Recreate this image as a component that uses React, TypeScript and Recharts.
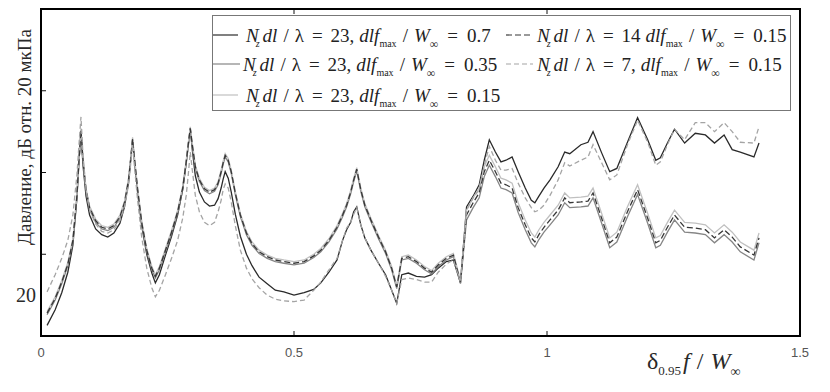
import React from "react";
import { LineChart, Line, XAxis, YAxis, Legend } from "recharts";

// normalised frequency, delta_0.95 * f / W_inf
const freq = [
  0.012, 0.028, 0.041, 0.053, 0.063, 0.071, 0.075, 0.079, 0.083, 0.089,
  0.096, 0.108, 0.120, 0.132, 0.144, 0.156, 0.165, 0.173, 0.177, 0.181,
  0.185, 0.191, 0.199, 0.209, 0.219, 0.226, 0.234, 0.246, 0.258, 0.270,
  0.280, 0.287, 0.291, 0.295, 0.299, 0.305, 0.313, 0.323, 0.333, 0.343,
  0.350, 0.356, 0.360, 0.364, 0.370, 0.376, 0.384, 0.394, 0.406, 0.417,
  0.431, 0.447, 0.463, 0.480, 0.500, 0.520, 0.539, 0.553, 0.569, 0.585,
  0.596, 0.604, 0.612, 0.618, 0.624, 0.632, 0.640, 0.652, 0.667, 0.681,
  0.693, 0.703, 0.713, 0.726, 0.742, 0.758, 0.772, 0.785, 0.801, 0.815,
  0.829, 0.841, 0.854, 0.866, 0.876, 0.886, 0.898, 0.909, 0.919, 0.931,
  0.943, 0.957, 0.969, 0.976, 0.984, 0.994, 1.006, 1.022, 1.035, 1.045,
  1.067, 1.081, 1.091, 1.108, 1.124, 1.138, 1.159, 1.179, 1.199, 1.215,
  1.224, 1.238, 1.252, 1.272, 1.293, 1.313, 1.331, 1.350, 1.366, 1.382,
  1.409, 1.419,
];

// Nz dl/λ = 23, dlf/W = 0.7
const p23_070 = [
  21.3, 23.2, 25.3, 27.8, 31.1, 36.9, 41.3, 45.0, 40.9, 37.1,
  34.8, 33.1, 32.4, 32.1, 32.6, 33.8, 35.8, 38.8, 41.4, 44.0,
  41.3, 37.5, 33.5, 30.0, 27.7, 26.5, 27.5, 29.9, 32.2, 34.8,
  37.9, 41.2, 43.4, 45.4, 42.8, 39.6, 37.6, 36.4, 35.9, 36.0,
  36.8, 38.1, 39.2, 40.1, 39.3, 37.6, 34.9, 32.2, 30.0, 28.6,
  27.2, 26.4, 25.6, 25.4, 25.0, 25.3, 25.7, 26.5, 27.8, 29.3,
  31.7, 33.0, 33.9, 35.2, 35.8, 33.6, 32.0, 30.5, 28.9, 27.5,
  25.6, 24.0, 27.5, 27.7, 27.3, 27.2, 27.5, 28.3, 29.1, 29.3,
  26.5, 35.8, 37.1, 38.5, 41.5, 44.0, 42.5, 41.3, 41.5, 41.9,
  40.1, 38.1, 36.6, 36.3, 37.1, 38.1, 39.1, 40.7, 42.5, 42.3,
  43.4, 43.7, 45.0, 42.4, 40.1, 40.5, 43.7, 46.7, 44.0, 41.5,
  41.8, 43.6, 45.3, 43.6, 44.8, 44.6, 43.6, 44.6, 42.8, 42.5,
  41.9, 43.6,
];

// Nz dl/λ = 23, dlf/W = 0.35
const p23_035 = [
  22.6, 24.4, 26.4, 28.6, 31.5, 37.0, 41.3, 45.0, 41.3, 37.7,
  35.5, 33.9, 33.1, 32.9, 33.3, 34.4, 36.1, 38.9, 41.3, 43.9,
  41.3, 37.7, 33.7, 30.3, 28.1, 27.1, 28.1, 30.3, 32.5, 35.0,
  37.9, 41.1, 43.2, 45.2, 43.2, 40.5, 38.9, 37.8, 37.4, 37.7,
  38.5, 39.9, 41.0, 41.9, 41.3, 39.9, 37.3, 34.6, 32.4, 31.1,
  30.1, 29.5, 29.1, 28.9, 28.7, 28.9, 29.6, 30.3, 31.5, 33.1,
  34.6, 35.8, 37.4, 38.9, 40.2, 37.7, 35.8, 34.0, 31.9, 30.1,
  28.1, 25.8, 29.3, 29.5, 28.9, 28.1, 27.6, 28.5, 29.3, 29.7,
  26.4, 34.2, 35.7, 36.9, 39.5, 40.9, 39.5, 38.1, 37.9, 37.5,
  35.1, 33.0, 31.4, 30.9, 31.8, 32.7, 33.6, 34.8, 36.3, 35.7,
  35.8, 35.9, 36.9, 33.8, 30.8, 31.5, 34.6, 37.3, 33.8, 30.8,
  31.1, 32.7, 34.2, 32.7, 32.6, 32.4, 31.4, 32.4, 31.5, 30.3,
  29.3, 31.4,
];

// Nz dl/λ = 23, dlf/W = 0.15
const p23_015 = [
  23.0, 24.8, 26.8, 29.0, 31.9, 37.4, 41.7, 45.4, 41.7, 38.1,
  35.9, 34.3, 33.5, 33.3, 33.7, 34.8, 36.5, 39.3, 41.7, 44.3,
  41.7, 38.1, 34.1, 30.7, 28.5, 27.5, 28.5, 30.7, 32.9, 35.4,
  38.3, 41.5, 43.6, 45.6, 43.6, 40.9, 39.3, 38.2, 37.8, 38.1,
  38.9, 40.3, 41.4, 42.3, 41.7, 40.3, 37.7, 35.0, 32.8, 31.5,
  30.5, 29.9, 29.5, 29.3, 29.1, 29.3, 30.0, 30.7, 31.9, 33.5,
  35.0, 36.2, 37.8, 39.3, 40.6, 38.1, 36.2, 34.4, 32.3, 30.5,
  28.5, 26.2, 29.7, 29.9, 29.3, 28.5, 28.0, 28.9, 29.7, 30.1,
  26.8, 35.4, 36.9, 38.1, 40.7, 42.1, 40.7, 39.3, 39.1, 38.7,
  36.3, 34.2, 32.6, 32.1, 33.0, 33.9, 34.8, 36.0, 37.5, 36.9,
  37.0, 37.1, 38.1, 35.0, 32.0, 32.7, 35.8, 38.5, 35.0, 32.0,
  32.3, 33.9, 35.4, 33.9, 33.8, 33.6, 32.6, 33.6, 32.7, 31.5,
  30.5, 32.6,
];

// Nz dl/λ = 14, dlf/W = 0.15
const p14_015 = [
  22.8, 24.6, 26.6, 28.8, 31.7, 37.2, 41.5, 45.2, 41.5, 37.9,
  35.7, 34.1, 33.3, 33.1, 33.5, 34.6, 36.3, 39.1, 41.5, 44.1,
  41.5, 37.9, 33.9, 30.5, 28.3, 27.3, 28.3, 30.5, 32.7, 35.2,
  38.1, 41.3, 43.4, 45.4, 43.4, 40.7, 39.1, 38.0, 37.6, 37.9,
  38.7, 40.1, 41.2, 42.1, 41.5, 40.1, 37.5, 34.8, 32.6, 31.3,
  30.3, 29.7, 29.3, 29.1, 28.9, 29.1, 29.8, 30.5, 31.7, 33.3,
  34.8, 36.0, 37.6, 39.1, 40.4, 37.9, 36.0, 34.2, 32.1, 30.3,
  28.3, 26.0, 29.5, 29.7, 29.1, 28.3, 27.8, 28.7, 29.5, 29.9,
  26.6, 34.8, 36.3, 37.5, 40.1, 41.5, 40.1, 38.7, 38.5, 38.1,
  35.7, 33.6, 32.0, 31.5, 32.4, 33.3, 34.2, 35.4, 36.9, 36.3,
  36.4, 36.5, 37.5, 34.4, 31.4, 32.1, 35.2, 37.9, 34.4, 31.4,
  31.7, 33.3, 34.8, 33.3, 33.2, 33.0, 32.0, 33.0, 32.1, 30.9,
  29.9, 32.0,
];

// Nz dl/λ = 7, dlf/W = 0.15
const p7_015 = [
  25.4, 27.5, 29.5, 31.7, 34.8, 39.7, 43.4, 46.8, 42.1, 37.9,
  35.4, 33.7, 32.8, 32.6, 33.0, 34.1, 35.8, 38.5, 40.9, 43.4,
  40.5, 36.6, 32.1, 28.3, 25.9, 24.8, 25.6, 27.5, 29.5, 31.7,
  34.4, 37.2, 39.7, 42.5, 40.3, 37.2, 35.2, 33.9, 33.5, 33.9,
  35.2, 36.6, 37.9, 38.6, 38.1, 36.4, 33.5, 30.5, 28.3, 27.0,
  25.9, 25.0, 24.5, 24.3, 24.2, 24.4, 25.6, 26.6, 28.1, 29.5,
  31.7, 33.2, 33.9, 34.9, 35.7, 33.6, 32.0, 30.5, 28.9, 27.3,
  25.6, 24.0, 26.9, 27.1, 26.9, 26.6, 26.6, 27.8, 28.8, 29.3,
  26.6, 35.4, 36.9, 37.9, 40.9, 43.2, 41.5, 40.3, 40.3, 40.5,
  38.7, 36.9, 35.7, 35.2, 35.4, 36.0, 37.2, 39.1, 41.2, 40.8,
  41.5, 41.9, 43.4, 41.2, 39.1, 39.7, 43.4, 46.4, 43.7, 40.9,
  41.3, 43.4, 45.3, 44.0, 46.1, 46.1, 45.0, 46.1, 45.0, 43.7,
  43.6, 45.6,
];

const xTicks = [0, 0.5, 1, 1.5];
const yTicks = [20, 30, 40, 50, 60];

const seriesKeys = ["s1", "s2", "s3", "s4", "s5"];
const nzLabels = ["23,", "23,", "23,", "14", "7,"];
const ratioLabels = ["0.7", "0.35", "0.15", "0.15", "0.15"];
const colors = ["#2a2a2a", "#858585", "#c0c0c0", "#363636", "#a4a4a4"];
const dashes = ["", "", "", "6 3", "5 3"];

const data = freq.map((f, i) => ({
  f,
  s1: p23_070[i],
  s2: p23_035[i],
  s3: p23_015[i],
  s4: p14_015[i],
  s5: p7_015[i],
}));

// plot frame (px)
const L = 41;
const R = 800;
const T = 9;
const B = 336;
const serif = "'Liberation Serif', 'DejaVu Serif', serif";
const frame = { stroke: "#111", strokeWidth: 2 };

const BottomTick = (props: any) => {
  const { x, payload } = props;
  return (
    <g>
      <line x1={x} x2={x} y1={B} y2={B - 5} stroke="#111" />
      <text
        x={x}
        y={357}
        textAnchor="middle"
        fontFamily="'Liberation Sans', Arial, sans-serif"
        fontSize={13}
        fill="#555"
      >
        {String(payload.value)}
      </text>
    </g>
  );
};

const TopTick = (props: any) => (
  <line x1={props.x} x2={props.x} y1={T} y2={T + 5} stroke="#111" />
);

const LeftTick = (props: any) => (
  <line x1={L} x2={L + 5} y1={props.y} y2={props.y} stroke="#111" />
);

const RightTick = (props: any) => (
  <line x1={R} x2={R - 5} y1={props.y} y2={props.y} stroke="#111" />
);

const YTitle = () => (
  <g>
    <text
      transform="translate(31, 137) rotate(-90)"
      textAnchor="middle"
      fontFamily={serif}
      fontSize={19}
      fill="#2a2a2a"
    >
      Давление, дБ отн. 20 мкПа
    </text>
    <text x={26} y={302} textAnchor="middle" fontFamily={serif} fontSize={20} fill="#2a2a2a">
      20
    </text>
  </g>
);

const XTitle = () => (
  <text x={647} y={369} fontFamily={serif} fontSize={24} fill="#2a2a2a">
    <tspan>δ</tspan>
    <tspan fontSize={13} dy={6}>0.95</tspan>
    <tspan fontStyle="italic" dy={-6} dx={2}>f</tspan>
    <tspan dx={7}>/</tspan>
    <tspan fontStyle="italic" dx={7}>W</tspan>
    <tspan fontSize={14} dy={7}>∞</tspan>
  </text>
);

const Formula = ({ x, y, nz, ratio }: any) => (
  <text x={x} y={y} fontFamily={serif} fontSize={19} fill="#222">
    <tspan fontStyle="italic">N</tspan>
    <tspan fontStyle="italic" fontSize={10} dx={-3} dy={5}>z</tspan>
    <tspan fontStyle="italic" dy={-5} dx={3}>dl</tspan>
    <tspan dx={6}>/</tspan>
    <tspan dx={6}>λ</tspan>
    <tspan dx={8}>=</tspan>
    <tspan dx={8}>{nz}</tspan>
    <tspan fontStyle="italic" dx={5}>dlf</tspan>
    <tspan fontSize={10} dy={5}>max</tspan>
    <tspan dy={-5} dx={6}>/</tspan>
    <tspan fontStyle="italic" dx={6}>W</tspan>
    <tspan fontSize={12} dy={6}>∞</tspan>
    <tspan dy={-6} dx={9}>=</tspan>
    <tspan dx={9}>{ratio}</tspan>
  </text>
);

// legend slots: [sample x1, sample x2, text x, row centre y]
const legendSlots = [
  [1, 26, 34, 20],
  [1, 28, 31, 49],
  [1, 26, 34, 80],
  [294, 321, 325, 20],
  [294, 321, 325, 49],
];

const LegendBox = () => (
  <svg width={580} height={97} style={{ display: "block" }}>
    <rect x={0.5} y={0.5} width={578} height={95} fill="#fff" stroke="#777" />
    {seriesKeys.map((k, i) => {
      const [a, b, tx, cy] = legendSlots[i];
      return (
        <g key={k}>
          <line
            x1={a}
            x2={b}
            y1={cy}
            y2={cy}
            stroke={colors[i]}
            strokeWidth={1.2}
            strokeDasharray={dashes[i] || undefined}
          />
          <Formula x={tx} y={cy + 7} nz={nzLabels[i]} ratio={ratioLabels[i]} />
        </g>
      );
    })}
  </svg>
);

export default function App() {
  return (
    <div
      style={{
        position: "absolute",
        left: 0,
        top: 0,
        width: 830,
        height: 392,
        background: "#fff",
      }}
    >
      <LineChart
        width={830}
        height={392}
        data={data}
        margin={{ top: T - 1, right: 830 - R - 1, bottom: 392 - B - 1, left: L - 1 }}
      >
        <XAxis
          xAxisId="b"
          dataKey="f"
          type="number"
          domain={[0, 1.5]}
          ticks={xTicks}
          interval={0}
          height={1}
          stroke="#111"
          axisLine={frame}
          tickLine={false}
          tick={<BottomTick />}
          label={<XTitle />}
        />
        <XAxis
          xAxisId="t"
          orientation="top"
          dataKey="f"
          type="number"
          domain={[0, 1.5]}
          ticks={xTicks}
          interval={0}
          height={1}
          stroke="#111"
          axisLine={frame}
          tickLine={false}
          tick={<TopTick />}
        />
        <YAxis
          yAxisId="l"
          type="number"
          domain={[20, 60]}
          ticks={yTicks}
          interval={0}
          width={1}
          stroke="#111"
          axisLine={frame}
          tickLine={false}
          tick={<LeftTick />}
          label={<YTitle />}
        />
        <YAxis
          yAxisId="r"
          orientation="right"
          type="number"
          domain={[20, 60]}
          ticks={yTicks}
          interval={0}
          width={1}
          stroke="#111"
          axisLine={frame}
          tickLine={false}
          tick={<RightTick />}
        />
        {seriesKeys.map((k, i) => (
          <Line
            key={k}
            xAxisId="b"
            yAxisId="l"
            dataKey={k}
            type="linear"
            stroke={colors[i]}
            strokeWidth={1.3}
            strokeDasharray={dashes[i] || undefined}
            dot={false}
            activeDot={false}
            isAnimationActive={false}
          />
        ))}
        <Legend
          layout="vertical"
          align="center"
          verticalAlign="middle"
          content={<LegendBox />}
          wrapperStyle={{ left: 212, top: 15, width: 580, height: 97 }}
        />
      </LineChart>
      {/* dark box round the plot, laid over the chart */}
      <svg
        width={830}
        height={392}
        style={{ position: "absolute", left: 0, top: 0, pointerEvents: "none" }}
      >
        <rect
          x={L}
          y={T}
          width={R - L}
          height={B - T}
          fill="none"
          stroke="#000"
          strokeWidth={2}
        />
      </svg>
    </div>
  );
}
